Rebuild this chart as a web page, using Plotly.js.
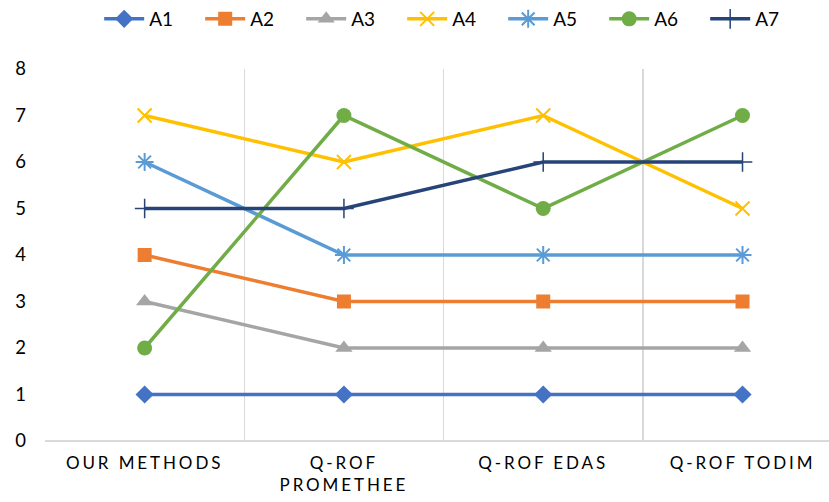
<!DOCTYPE html>
<html>
<head>
<meta charset="utf-8">
<script src="https://cdn.plot.ly/plotly-3.0.1.min.js"></script>
<style>
html,body{margin:0;padding:0;background:#fff;}
#chart{width:829px;height:502px;}
.xtick text{letter-spacing:2.9px;}
</style>
</head>
<body>
<div id="chart"></div>
<script>
const categories = ["OUR METHODS", "Q-ROF<br>PROMETHEE", "Q-ROF EDAS", "Q-ROF TODIM"];
const seriesNames = ["A1", "A2", "A3", "A4", "A5", "A6", "A7"];
const A1 = [1, 1, 1, 1];
const A2 = [4, 3, 3, 3];
const A3 = [3, 2, 2, 2];
const A4 = [7, 6, 7, 5];
const A5 = [6, 4, 4, 4];
const A6 = [2, 7, 5, 7];
const A7 = [5, 5, 6, 6];
const yTicks = [0, 1, 2, 3, 4, 5, 6, 7, 8];

const values = [A1, A2, A3, A4, A5, A6, A7];
const colors = ["#4472C4", "#ED7D31", "#A5A5A5", "#FFC000", "#5B9BD5", "#70AD47", "#264478"];
const symbols = ["diamond", "square", "triangle-up", "x-thin-open", "asterisk-open", "circle", "cross-thin-open"];
const sizes = [14, 14, 15, 14, 15, 15, 14];

const traces = values.map((v, i) => ({
  type: "scatter",
  mode: "lines+markers",
  name: seriesNames[i],
  x: categories,
  y: v,
  line: {color: colors[i], width: 3.5},
  marker: {symbol: symbols[i], size: sizes[i], color: colors[i], line: {color: colors[i], width: (i === 3 || i === 4) ? 2 : (i === 6 ? 1.5 : 0)}},
  cliponaxis: false
}));

const layout = {
  width: 829, height: 502,
  margin: {l: 45, r: 0, t: 69, b: 60.5},
  paper_bgcolor: "#fff", plot_bgcolor: "#fff",
  font: {family: "Lato, 'Open Sans', sans-serif", size: 18, color: "#000"},
  showlegend: true,
  legend: {orientation: "h", x: 0.52, xanchor: "center", y: 1, yref: "container", yanchor: "top",
           font: {size: 19, color: "#000"}, entrywidth: 46, itemwidth: 40, traceorder: "normal"},
  xaxis: {type: "category", range: [-0.5, 3.434], tickson: "boundaries", showgrid: true,
          gridcolor: "#d9d9d9", gridwidth: 1.5, showline: false, zeroline: false, ticks: "", ticklabelstandoff: 10,
          tickfont: {size: 17, color: "#000"}, fixedrange: true},
  yaxis: {range: [0, 8], tickvals: yTicks, ticktext: yTicks.map(String), showgrid: false, zeroline: true,
          zerolinecolor: "#d9d9d9", zerolinewidth: 1.5, showline: false, ticks: "", ticklabelstandoff: 18,
          tickfont: {size: 18.5, color: "#000"}, fixedrange: true}
};

Plotly.newPlot("chart", traces, layout, {displayModeBar: false, staticPlot: true});
</script>
</body>
</html>
